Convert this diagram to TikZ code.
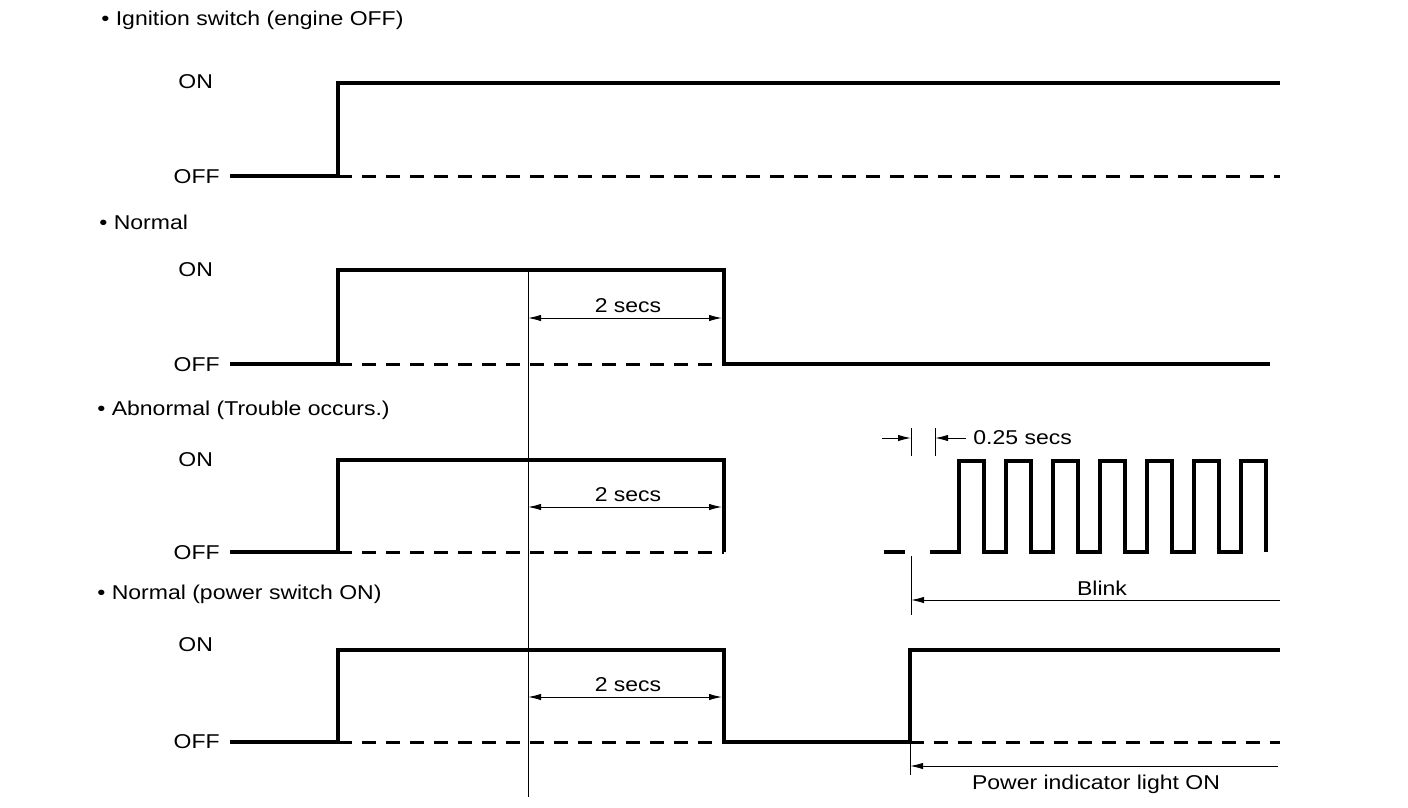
\documentclass[tikz,border=0pt]{standalone}
\usepackage{fontspec}
\setmainfont[FakeStretch=1.15]{Liberation Sans}
\usetikzlibrary{arrows.meta}
\tikzset{
  level/.style={line width=1.7pt, line join=miter},
  offdash/.style={line width=1.5pt, dash pattern=on 7pt off 5pt},
  dimline/.style={line width=0.5pt},
  dimarrow/.style={dimline, {Latex[length=6.5pt,width=3.2pt]}-{Latex[length=6.5pt,width=3.2pt]}},
  endarrow/.style={dimline, -{Latex[length=6.5pt,width=3.2pt]}},
  heading/.style={font=\fontsize{10}{12}\selectfont, anchor=west, inner sep=0pt},
  state/.style={font=\fontsize{10}{12}\selectfont, inner sep=0pt},
  note/.style={font=\fontsize{10}{12}\selectfont, inner sep=0pt}
}

\begin{document}
\begin{tikzpicture}[x=0.5pt,y=-0.5pt]
  \useasboundingbox (0,0) rectangle (1408,808);

  % headings
  \node[heading] (h1) at (101,20) {\textbullet\ Ignition switch (engine OFF)};
  \node[heading] (h2) at (99,222) {\textbullet\ Normal};
  \node[heading] (h3) at (97,410) {\textbullet\ Abnormal (Trouble occurs.)};
  \node[heading] (h4) at (97,594) {\textbullet\ Normal (power switch ON)};

  % level labels
  \foreach \r/\on/\off in {1/82/177, 2/270/365, 3/460/553, 4/645/742} {
    \node[state,anchor=west] (on\r) at (178,\on) {ON};
    \node[state,anchor=east] (off\r) at (220,\off) {OFF};
  }

  % ignition switch
  \draw[level] (230,176) -| (338,83) -- (1280,83);
  \draw[offdash] (338,176) -- (1280,176);

  % normal
  \draw[level] (230,364) -| (338,270) -| (724,364) -- (1270,364);
  \draw[offdash] (338,364) -- (724,364);

  % abnormal
  \draw[level] (230,552) -| (338,460) -| (724,552);
  \draw[offdash] (338,552) -- (724,552);
  \draw[level] (884,552) -- (905,552);
  \draw[level] (930,552)
    \foreach \k in {0,...,6} {
      -- ({959+47*\k},552) -- ({959+47*\k},461)
      -- ({984+47*\k},461) -- ({984+47*\k},552)
    };

  % power switch ON
  \draw[level] (230,742) -| (338,650) -| (724,742) -| (910,650) -- (1280,650);
  \draw[offdash] (338,742) -- (724,742);
  \draw[offdash] (910,742) -- (1280,742);

  % common start of the 2 secs
  \coordinate (t0) at (528,268);
  \coordinate (t0end) at (528,797);
  \draw[dimline] (t0) -- (t0end);

  \foreach \r/\y in {2/318, 3/507, 4/697} {
    \coordinate (a\r) at (528,\y);
    \coordinate (b\r) at (722,\y);
    \draw[dimarrow] (a\r) -- (b\r);
    \node[note] (sec\r) at (628,\y-12) {2 secs};
  }

  % blink period
  \coordinate (p0top) at (911,428);
  \coordinate (p0bot) at (911,456);
  \coordinate (p1top) at (935,428);
  \coordinate (p1bot) at (935,456);
  \draw[dimline] (p0top) -- (p0bot);
  \draw[dimline] (p1top) -- (p1bot);
  \draw[endarrow] (882,438) -- (911,438);
  \draw[endarrow] (966,438) -- (935,438);
  \node[note,anchor=west] (period) at (973,438) {0.25 secs};

  \coordinate (bl0) at (911,556);
  \coordinate (bl1) at (911,615);
  \draw[dimline] (bl0) -- (bl1);
  \draw[endarrow] (1280,600) -- (911,600);
  \node[note] (blink) at (1102,588) {Blink};

  % power indicator
  \coordinate (pw0) at (910,744);
  \coordinate (pw1) at (910,775);
  \draw[dimline] (pw0) -- (pw1);
  \draw[endarrow] (1278,766) -- (910,766);
  \node[note] (power) at (1096,784) {Power indicator light ON};
\end{tikzpicture}
\end{document}
